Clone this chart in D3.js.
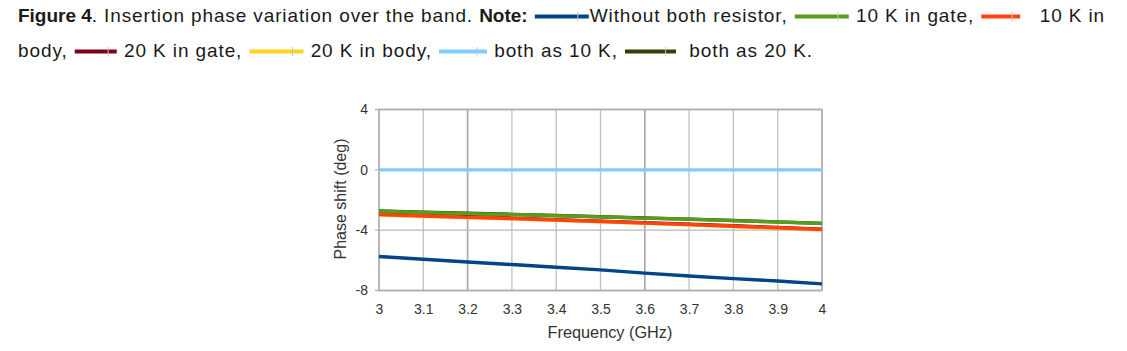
<!DOCTYPE html>
<html>
<head>
<meta charset="utf-8">
<script src="https://cdn.jsdelivr.net/npm/d3@7"></script>
<style>
  body { margin: 0; background: #fff; }
  svg text { white-space: pre; }
</style>
</head>
<body>
<svg width="1127" height="351"></svg>
<script>
// frequency points (GHz)
var freq = [3, 3.1, 3.2, 3.3, 3.4, 3.5, 3.6, 3.7, 3.8, 3.9, 4];

// phase shift (deg)
var withoutBoth = [-5.75, -5.93, -6.11, -6.28, -6.46, -6.63, -6.85, -7.04, -7.21, -7.37, -7.56];
var gate10 = [-2.75, -2.83, -2.90, -2.96, -3.04, -3.12, -3.20, -3.28, -3.37, -3.46, -3.56];
var body10 = [-2.97, -3.06, -3.15, -3.23, -3.33, -3.43, -3.53, -3.63, -3.74, -3.85, -3.96];
var gate20 = [-2.93, -3.02, -3.11, -3.20, -3.30, -3.40, -3.50, -3.60, -3.71, -3.82, -3.93];
var body20 = [-2.99, -3.08, -3.17, -3.25, -3.35, -3.45, -3.55, -3.65, -3.76, -3.87, -3.98];
var both10 = [0, 0, 0, 0, 0, 0, 0, 0, 0, 0, 0];
var both20 = [-2.73, -2.81, -2.88, -2.95, -3.03, -3.11, -3.19, -3.27, -3.36, -3.45, -3.55];

var seriesNames = ['Without both resistor', '10 K in gate', '10 K in body', '20 K in gate', '20 K in body', 'both as 10 K', 'both as 20 K'];
var seriesVals = [withoutBoth, gate10, body10, gate20, body20, both10, both20];
var colors = ['#004586', '#579d1c', '#ff420e', '#7e0021', '#ffd320', '#83caff', '#314004'];
var drawOrder = [3, 4, 6, 0, 1, 2, 5];

var xTicks = [3, 3.1, 3.2, 3.3, 3.4, 3.5, 3.6, 3.7, 3.8, 3.9, 4];
var yTicks = [-8, -4, 0, 4];

// caption: text pieces and legend swatches (index into series)
var captionLine1 = [
  {t: 'Figure 4', b: true}, {t: '. Insertion phase variation over the band. '}, {t: 'Note:', b: true}, {t: ' '},
  {s: 0}, {t: 'Without both resistor, '}, {s: 1}, {t: ' 10 K in gate, '}, {s: 2}, {t: '   10 K in'}
];
var captionLine2 = [
  {t: 'body, '}, {s: 3}, {t: ' 20 K in gate, '}, {s: 4}, {t: ' 20 K in body, '}, {s: 5}, {t: ' both as 10 K, '}, {s: 6}, {t: '  both as 20 K.'}
];
var swatchW = [55, 55, 40, 43, 55, 49, 52];

var svg = d3.select('svg');
var font = 'Liberation Sans, Arial, sans-serif';

var margin = {left: 379, right: 305, top: 109.5, bottom: 60.5};
var width = +svg.attr('width');
var height = +svg.attr('height');
var innerWidth = width - margin.left - margin.right;
var innerHeight = height - margin.top - margin.bottom;

var xscale = d3.scaleLinear().domain([3, 4]).range([0, innerWidth]);
var yscale = d3.scaleLinear().domain([-8, 4]).range([innerHeight, 0]);

var g = svg.append('g').attr('transform', `translate(${margin.left},${margin.top})`);

// grid
g.selectAll('.vgrid').data(xTicks).enter().append('line')
  .attr('x1', d => xscale(d)).attr('x2', d => xscale(d))
  .attr('y1', 0).attr('y2', innerHeight)
  .attr('stroke', (d, i) => (i == 2 || i == 6) ? '#a8a8a8' : '#c0c0c0')
  .attr('stroke-width', (d, i) => (i == 2 || i == 6) ? 1.7 : 1.3);
g.selectAll('.hgrid').data(yTicks).enter().append('line')
  .attr('x1', -4).attr('x2', innerWidth)
  .attr('y1', d => yscale(d)).attr('y2', d => yscale(d))
  .attr('stroke', '#b8b8b8').attr('stroke-width', 1.4);
g.append('rect')
  .attr('width', innerWidth).attr('height', innerHeight)
  .attr('fill', 'none').attr('stroke', '#b0b0b0').attr('stroke-width', 1.6);

// axes labels (plain hyphen for negatives, as in the figure)
var yAxis = d3.axisLeft(yscale).tickValues(yTicks).tickSize(0).tickPadding(11).tickFormat(d => String(d));
var xAxis = d3.axisBottom(xscale).tickValues(xTicks).tickSize(0).tickPadding(14).tickFormat(d => String(d));
var ya = g.append('g').call(yAxis);
var xa = g.append('g').attr('transform', `translate(0,${innerHeight})`).call(xAxis);
[ya, xa].forEach(a => {
  a.select('.domain').remove();
  a.selectAll('text').attr('font-family', font)
    .attr('font-size', 14).attr('fill', '#333');
});

// series lines
var line = d3.line().x((d, i) => xscale(freq[i])).y(d => yscale(d));
drawOrder.forEach(k => {
  g.append('path').datum(seriesVals[k])
    .attr('d', line)
    .attr('fill', 'none')
    .attr('stroke', colors[k])
    .attr('stroke-width', 3.4);
});

// axis titles
svg.append('text')
  .attr('x', 610).attr('y', 338)
  .attr('text-anchor', 'middle')
  .attr('font-family', font)
  .attr('font-size', 16.3).attr('fill', '#333')
  .text('Frequency (GHz)');
svg.append('text')
  .attr('transform', `translate(346,${margin.top + innerHeight / 2 - 1}) rotate(-90)`)
  .attr('text-anchor', 'middle')
  .attr('font-family', font)
  .attr('font-size', 16).attr('fill', '#333')
  .text('Phase shift (deg)');

// caption with inline legend
var cap = svg.append('g');
var drawCaption = (parts, x0, baseline, ls) => {
  var x = x0, n = 0;
  parts.forEach(p => {
    if (p.s !== undefined) {
      var w = swatchW[p.s];
      cap.append('line')
        .attr('x1', x + 1).attr('x2', x + w)
        .attr('y1', baseline - 5.5).attr('y2', baseline - 5.5)
        .attr('stroke', colors[p.s]).attr('stroke-width', 4);
      cap.append('line')
        .attr('x1', x + w * 0.8).attr('x2', x + w * 0.8)
        .attr('y1', baseline - 10).attr('y2', baseline - 1)
        .attr('stroke', '#c8c8c8').attr('stroke-width', 1);
      x += w + 1;
    } else {
      var t = cap.append('text')
        .attr('x', x).attr('y', baseline)
        .attr('font-family', font)
        .attr('font-size', 19)
        .attr('letter-spacing', p.b ? ls - 0.9 : ls)
        .attr('font-weight', p.b ? 'bold' : 'normal')
        .attr('fill', '#1a1a1a')
        .text(p.t);
      x += t.node().getComputedTextLength();
      n += p.t.length;
    }
  });
  return {end: x, chars: n};
};
// fit letter spacing so each line spans the same width as the reference
var m1 = drawCaption(captionLine1, 18, 22, 0);
var m2 = drawCaption(captionLine2, 18, 57, 0);
cap.selectAll('*').remove();
drawCaption(captionLine1, 18, 22, (1105 - m1.end) / m1.chars);
drawCaption(captionLine2, 18, 57, (813 - m2.end) / m2.chars);
</script>
</body>
</html>
